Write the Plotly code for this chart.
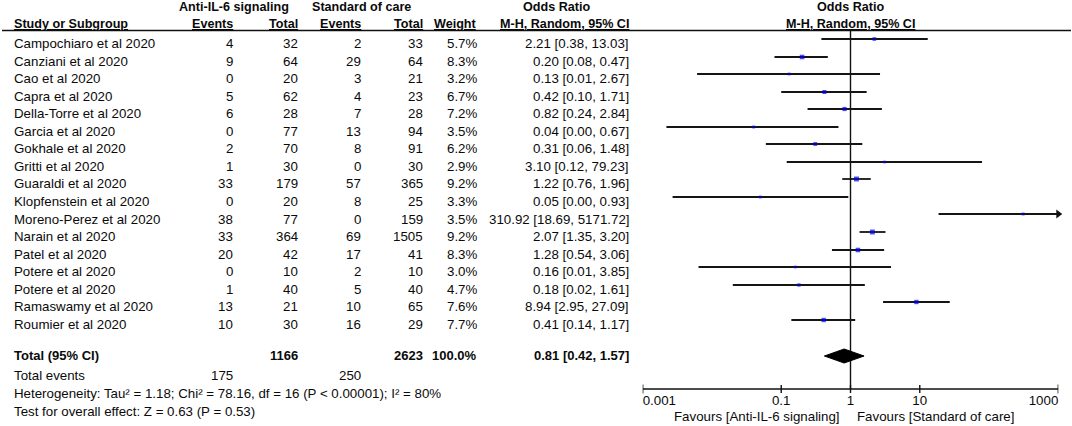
import math
import plotly.graph_objects as go

# ---------------- data ----------------
studies = ["Campochiaro et al 2020", "Canziani et al 2020", "Cao et al 2020", "Capra et al 2020",
           "Della-Torre et al 2020", "Garcia et al 2020", "Gokhale et al 2020", "Gritti et al 2020",
           "Guaraldi et al 2020", "Klopfenstein et al 2020", "Moreno-Perez et al 2020",
           "Narain et al 2020", "Patel et al 2020", "Potere et al 2020", "Potere et al 2020",
           "Ramaswamy et al 2020", "Roumier et al 2020"]
events_il6 = [4, 9, 0, 5, 6, 0, 2, 1, 33, 0, 38, 33, 20, 0, 1, 13, 10]
total_il6 = [32, 64, 20, 62, 28, 77, 70, 30, 179, 20, 77, 364, 42, 10, 40, 21, 30]
events_soc = [2, 29, 3, 4, 7, 13, 8, 0, 57, 8, 0, 69, 17, 2, 5, 10, 16]
total_soc = [33, 64, 21, 23, 28, 94, 91, 30, 365, 25, 159, 1505, 41, 10, 40, 65, 29]
weight = [5.7, 8.3, 3.2, 6.7, 7.2, 3.5, 6.2, 2.9, 9.2, 3.3, 3.5, 9.2, 8.3, 3.0, 4.7, 7.6, 7.7]
odds = [2.21, 0.20, 0.13, 0.42, 0.82, 0.04, 0.31, 3.10, 1.22, 0.05, 310.92, 2.07, 1.28, 0.16, 0.18, 8.94, 0.41]
ci_low = [0.38, 0.08, 0.0061, 0.10, 0.24, 0.0022, 0.06, 0.12, 0.76, 0.0027, 18.69, 1.35, 0.54, 0.0064, 0.02, 2.95, 0.14]
ci_high = [13.03, 0.47, 2.67, 1.71, 2.84, 0.67, 1.48, 79.23, 1.96, 0.93, 5171.72, 3.20, 3.06, 3.85, 1.61, 27.09, 1.17]

total_n_il6 = 1166
total_n_soc = 2623
total_events_il6 = 175
total_events_soc = 250
total_weight = 100.0
pooled_or = 0.81
pooled_low = 0.42
pooled_high = 1.57
heterogeneity = "Heterogeneity: Tau² = 1.18; Chi² = 78.16, df = 16 (P < 0.00001); I² = 80%"
overall_test = "Test for overall effect: Z = 0.63 (P = 0.53)"
tick_values = [0.001, 0.1, 1, 10, 1000]
tick_labels = ["0.001", "0.1", "1", "10", "1000"]
favours_left = "Favours [Anti-IL-6 signaling]"
favours_right = "Favours [Standard of care]"

# ---------------- layout constants (pixels) ----------------
W, H = 1072, 426
FONT = "Arial, Liberation Sans, sans-serif"
FS = 13.3
FS_B = 12.6
TXT = "#0a0a0a"
X_NAME = 12.5
X_EV_A, X_TOT_A, X_EV_S, X_TOT_S, X_WT, X_OR = 234, 298.6, 361.6, 423.6, 478, 630
X_ONE = 850.5
ROW0, DY = 43.5, 17.55
LINE_OFF = 4.5
Y_HEAD1, Y_HEAD2, Y_RULE = 7, 23.5, 30.5
Y_TOTAL, Y_TEV, Y_HET, Y_TEST = 355, 375, 393.3, 411
Y_AXIS = 389
Y_TICKLAB, Y_FAV = 401.3, 416.5
AX_LO, AX_HI = 0.001, 1000

def px(x):
    return x / W

annotations = []

def txt(x, y, s, anchor="right", bold=False, under=False, size=None):
    if size is None:
        size = FS_B if bold else FS
    if under:
        s = f"<u>{s}</u>"
    if bold:
        s = f"<b>{s}</b>"
    annotations.append(dict(x=px(x), y=y, xref="paper", yref="y", text=s, showarrow=False,
                            xanchor=anchor, yanchor="middle", borderpad=0,
                            font=dict(family=FONT, size=size, color=TXT)))

# headers
txt(X_EV_A, Y_HEAD1, "Anti-IL-6 signaling", "center", bold=True)
txt(X_EV_S, Y_HEAD1, "Standard of care", "center", bold=True)
txt(556, Y_HEAD1, "Odds Ratio", "center", bold=True)
txt(X_ONE, Y_HEAD1, "Odds Ratio", "center", bold=True)
txt(X_NAME, Y_HEAD2, "Study or Subgroup", "left", bold=True, under=True)
txt(X_EV_A, Y_HEAD2, "Events", bold=True, under=True)
txt(X_TOT_A, Y_HEAD2, "Total", bold=True, under=True)
txt(X_EV_S, Y_HEAD2, "Events", bold=True, under=True)
txt(X_TOT_S, Y_HEAD2, "Total", bold=True, under=True)
txt(X_WT, Y_HEAD2, "Weight", bold=True, under=True)
txt(X_OR, Y_HEAD2, "M-H, Random, 95% CI", bold=True, under=True)
txt(X_ONE, Y_HEAD2, "M-H, Random, 95% CI", "center", bold=True, under=True)

row_y = [ROW0 + DY * i for i in range(len(studies))]
line_y = [round(y - LINE_OFF) for y in row_y]
for i, name in enumerate(studies):
    y = row_y[i]
    txt(X_NAME, y, name, "left")
    txt(X_EV_A, y, str(events_il6[i]))
    txt(X_TOT_A, y, str(total_il6[i]))
    txt(X_EV_S, y, str(events_soc[i]))
    txt(X_TOT_S, y, str(total_soc[i]))
    txt(X_WT, y, f"{weight[i]:.1f}%")
    txt(X_OR, y, f"{odds[i]:.2f} [{ci_low[i]:.2f}, {ci_high[i]:.2f}]")

txt(X_NAME, Y_TOTAL, "Total (95% CI)", "left", bold=True, size=13)
txt(X_TOT_A, Y_TOTAL, str(total_n_il6), bold=True, size=13)
txt(X_TOT_S, Y_TOTAL, str(total_n_soc), bold=True, size=13)
txt(X_WT, Y_TOTAL, f"{total_weight:.1f}%", bold=True, size=13)
txt(X_OR, Y_TOTAL, f"{pooled_or:.2f} [{pooled_low:.2f}, {pooled_high:.2f}]", bold=True, size=13)
txt(X_NAME, Y_TEV, "Total events", "left")
txt(X_EV_A, Y_TEV, str(total_events_il6))
txt(X_EV_S, Y_TEV, str(total_events_soc))
txt(X_NAME, Y_HET, heterogeneity, "left")
txt(X_NAME, Y_TEST, overall_test, "left")
txt(841, Y_FAV, favours_left, "right")
txt(855.5, Y_FAV, favours_right, "left")

fig = go.Figure()

# vertical line of no effect
fig.add_trace(go.Scatter(x=[1, 1], y=[Y_RULE, Y_AXIS], mode="lines",
                         line=dict(color="#111111", width=1.4), hoverinfo="skip"))

# CI lines
lx, ly = [], []
for i in range(len(studies)):
    y = line_y[i]
    lx += [max(ci_low[i], AX_LO), min(ci_high[i], AX_HI), None]
    ly += [y, y, None]
fig.add_trace(go.Scatter(x=lx, y=ly, mode="lines", line=dict(color="#151515", width=1.8),
                         hoverinfo="skip", cliponaxis=False))

# arrows for CIs beyond axis
ax_, ay_ = [], []
for i in range(len(studies)):
    if ci_high[i] > AX_HI:
        ax_.append(AX_HI)
        ay_.append(line_y[i])
fig.add_trace(go.Scatter(x=ax_, y=ay_, mode="markers",
                         marker=dict(symbol="triangle-right", size=8, color="#111111"),
                         cliponaxis=False, hoverinfo="skip"))

# point estimates
fig.add_trace(go.Scatter(x=odds, y=line_y, mode="markers",
                         marker=dict(symbol="square", size=[1.6 + 0.36 * w for w in weight],
                                     color="#0000ee", line=dict(width=0)),
                         cliponaxis=False, hoverinfo="skip"))

# pooled diamond
dh = 7
yc = Y_TOTAL + 1
fig.add_trace(go.Scatter(x=[pooled_low, pooled_or, pooled_high, pooled_or, pooled_low],
                         y=[yc, yc - dh, yc, yc + dh, yc],
                         mode="lines", fill="toself", fillcolor="#000000",
                         line=dict(color="#000000", width=1), hoverinfo="skip"))

# axis line and ticks
fig.add_trace(go.Scatter(x=[AX_LO, AX_HI], y=[Y_AXIS, Y_AXIS], mode="lines",
                         line=dict(color="#111111", width=1.5), hoverinfo="skip", cliponaxis=False))
tx, ty = [], []
for k, v in enumerate(tick_values):
    h = 4.5 if k in (0, len(tick_values) - 1) else 4
    tx += [v, v, None]
    ty += [Y_AXIS - h, Y_AXIS + h, None]
fig.add_trace(go.Scatter(x=tx, y=ty, mode="lines", line=dict(color="#111111", width=1.4),
                         hoverinfo="skip", cliponaxis=False))
positions = ["middle right"] + ["middle center"] * (len(tick_values) - 2) + ["middle left"]
fig.add_trace(go.Scatter(x=tick_values, y=[Y_TICKLAB] * len(tick_values), mode="text",
                         text=tick_labels, textposition=positions,
                         textfont=dict(family=FONT, size=FS, color=TXT),
                         cliponaxis=False, hoverinfo="skip"))

# header rule
shapes = [dict(type="line", xref="paper", yref="y", x0=px(2), x1=px(1071), y0=Y_RULE, y1=Y_RULE,
               line=dict(color="#111111", width=1.3))]

fig.update_layout(
    width=W, height=H, margin=dict(l=0, r=0, t=0, b=0),
    paper_bgcolor="white", plot_bgcolor="white", showlegend=False,
    annotations=annotations, shapes=shapes,
    xaxis=dict(type="log", range=[math.log10(AX_LO), math.log10(AX_HI)],
               domain=[642.7 / W, 1058.3 / W], visible=False),
    yaxis=dict(range=[H, 0], domain=[0, 1], visible=False),
)

fig.write_html("out.html", config={"displayModeBar": False},
               post_script="document.body.style.margin='0px';document.body.style.overflow='hidden';")
